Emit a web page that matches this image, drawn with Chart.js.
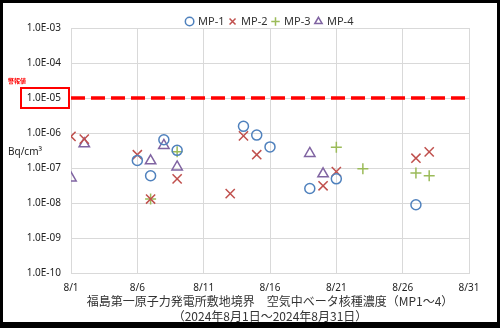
<!DOCTYPE html>
<html>
<head>
<meta charset="utf-8">
<script src="https://cdn.jsdelivr.net/npm/chart.js@4/dist/chart.umd.min.js"></script>
<style>
  html, body { margin: 0; padding: 0; background: #fff; }
  canvas { display: block; }
</style>
</head>
<body>
<canvas id="grafico" width="500" height="328"></canvas>
<script>
// Dados (dia de agosto / concentração Bq/cm3)
const mp1Dias = [6, 7, 8, 9, 14, 15, 16, 19, 21, 27];
const mp1Valores = [1.65e-7, 6.0e-8, 6.4e-7, 3.2e-7, 1.55e-6, 8.7e-7, 4.0e-7, 2.6e-8, 4.9e-8, 8.9e-9];

const mp2Dias = [1, 2, 6, 7, 9, 13, 14, 15, 20, 21, 27, 28];
const mp2Valores = [8.0e-7, 6.7e-7, 2.4e-7, 1.3e-8, 4.9e-8, 1.85e-8, 8.3e-7, 2.4e-7, 3.1e-8, 7.9e-8, 1.9e-7, 2.9e-7];

const mp3Dias = [7, 9, 21, 23, 27, 28];
const mp3Valores = [1.3e-8, 2.9e-7, 3.9e-7, 9.5e-8, 7.2e-8, 6.0e-8];

const mp4Dias = [1, 2, 7, 8, 9, 19, 20];
const mp4Valores = [5.2e-8, 4.9e-7, 1.6e-7, 4.4e-7, 1.07e-7, 2.6e-7, 6.8e-8];

const nivelAlerta = 1e-5; // 警報値
const ticksX = [1, 6, 11, 16, 21, 26, 31];
const ticksY = [1e-10, 1e-9, 1e-8, 1e-7, 1e-6, 1e-5, 1e-4, 1e-3];

const tituloX = [
  '福島第一原子力発電所敷地境界　空気中ベータ核種濃度（MP1～4）',
  '（2024年8月1日～2024年8月31日）'
];

const fonteNum = '"Noto Sans", "DejaVu Sans", sans-serif';
const fonteJp = '"Noto Sans CJK JP", sans-serif';

const pontos = (dias, valores) => dias.map((d, i) => ({ x: d, y: valores[i] }));

const serie = (label, dias, valores, cor, estilo, raio) => ({
  label,
  data: pontos(dias, valores),
  pointStyle: estilo,
  pointRadius: raio,
  borderColor: cor,
  backgroundColor: 'rgba(0,0,0,0)',
  borderWidth: 1.5,
  showLine: false
});

// Fundo com moldura preta
const moldura = {
  id: 'moldura',
  beforeDraw(chart) {
    const ctx = chart.ctx;
    ctx.save();
    ctx.fillStyle = '#000';
    ctx.fillRect(0, 0, chart.width, chart.height);
    ctx.fillStyle = '#fff';
    ctx.fillRect(3, 3, chart.width - 6, chart.height - 9);
    ctx.restore();
  }
};

// Altura fixa da legenda (para o gráfico começar logo abaixo dela)
const alturaLegenda = {
  id: 'alturaLegenda',
  beforeInit(chart) {
    if (!chart.legend) return;
    const fitOriginal = chart.legend.fit;
    chart.legend.fit = function () {
      fitOriginal.call(this);
      this.height = 17;
    };
  }
};

// Textos extras: unidade, 警報値 e caixa vermelha
const extras = {
  id: 'extras',
  afterDraw(chart) {
    const ctx = chart.ctx;
    const y = chart.scales.y.getPixelForValue(nivelAlerta);
    ctx.save();
    ctx.strokeStyle = '#ff0000';
    ctx.lineWidth = 2;
    ctx.strokeRect(21, y - 10, 48, 20);
    ctx.fillStyle = '#ff0000';
    ctx.font = 'bold 6px ' + fonteJp;
    ctx.textBaseline = 'middle';
    ctx.textAlign = 'left';
    ctx.fillText('警報値', 8, y - 17.5);
    ctx.fillStyle = '#222';
    ctx.font = '10px ' + fonteNum;
    ctx.fillText('Bq/cm³', 8, 152.5);
    ctx.restore();
  }
};

new Chart(document.getElementById('grafico'), {
  type: 'scatter',
  data: {
    datasets: [
      serie('MP-1', mp1Dias, mp1Valores, '#4F81BD', 'circle', 5),
      serie('MP-2', mp2Dias, mp2Valores, '#C0504D', 'crossRot', 6.5),
      serie('MP-3', mp3Dias, mp3Valores, '#9BBB59', 'cross', 5.5),
      serie('MP-4', mp4Dias, mp4Valores, '#8064A2', 'triangle', 6),
      {
        type: 'line',
        label: '警報値',
        data: [{ x: ticksX[0], y: nivelAlerta }, { x: ticksX[ticksX.length - 1], y: nivelAlerta }],
        borderColor: '#ff0000',
        borderWidth: 3.5,
        borderDash: [14, 6],
        pointRadius: 0,
        fill: false
      }
    ]
  },
  options: {
    responsive: false,
    animation: false,
    devicePixelRatio: 1,
    events: [],
    layout: { padding: { left: 0, right: 31, top: 11, bottom: 4 } },
    plugins: {
      tooltip: { enabled: false },
      legend: {
        position: 'top',
        fullSize: false,
        labels: {
          usePointStyle: true,
          boxWidth: 6,
          boxHeight: 6,
          padding: 5,
          color: '#333',
          font: { family: fonteNum, size: 11 },
          filter: item => item.datasetIndex < 4
        }
      }
    },
    scales: {
      x: {
        type: 'linear',
        min: 1,
        max: 31,
        afterBuildTicks: s => { s.ticks = ticksX.map(v => ({ value: v })); },
        afterFit: s => { s.height = 51; },
        grid: { color: '#D9D9D9', drawTicks: false },
        border: { color: '#D9D9D9' },
        ticks: {
          padding: 9,
          color: '#222',
          font: { family: fonteNum, size: 10 },
          maxRotation: 0,
          callback: v => '8/' + v
        },
        title: {
          display: true,
          text: tituloX,
          color: '#333',
          font: { family: fonteJp, size: 12, lineHeight: 1.25 },
          padding: { top: 0, bottom: 0 }
        }
      },
      y: {
        type: 'logarithmic',
        min: 1e-10,
        max: 1e-3,
        afterBuildTicks: s => { s.ticks = ticksY.map(v => ({ value: v })); },
        afterFit: s => { s.width = 71; },
        grid: { color: '#D9D9D9', drawTicks: false },
        border: { color: '#D9D9D9' },
        ticks: {
          padding: 10,
          color: '#222',
          font: { family: fonteNum, size: 10 },
          callback: v => '1.0E-' + String(-Math.round(Math.log10(v))).padStart(2, '0')
        }
      }
    }
  },
  plugins: [moldura, alturaLegenda, extras]
});
</script>
</body>
</html>
